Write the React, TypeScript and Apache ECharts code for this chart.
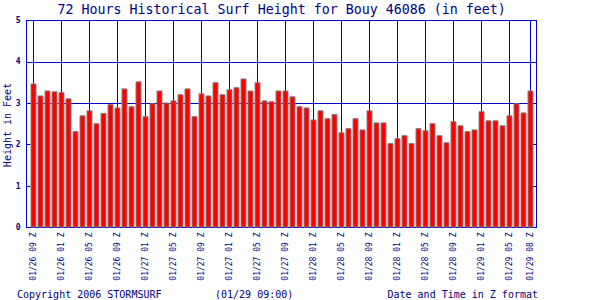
import React, { useEffect, useRef } from "react";
import * as echarts from "echarts";

const TITLE = "72 Hours Historical Surf Height for Bouy 46086 (in feet)";
const Y_NAME = "Height in Feet";
const COPYRIGHT = "Copyright 2006 STORMSURF";
const STAMP = "(01/29 09:00)";
const X_NAME = "Date and Time in Z format";

const categories: string[] = [
  "01/26 09", "01/26 10", "01/26 11", "01/26 12", "01/26 01", "01/26 02", "01/26 03", "01/26 04",
  "01/26 05", "01/26 06", "01/26 07", "01/26 08", "01/26 09", "01/26 10", "01/26 11",
  "01/27 12", "01/27 01", "01/27 02", "01/27 03", "01/27 04", "01/27 05", "01/27 06", "01/27 07",
  "01/27 08", "01/27 09", "01/27 10", "01/27 11", "01/27 12", "01/27 01", "01/27 02", "01/27 03",
  "01/27 04", "01/27 05", "01/27 06", "01/27 07", "01/27 08", "01/27 09", "01/27 10", "01/27 11",
  "01/28 12", "01/28 01", "01/28 02", "01/28 03", "01/28 04", "01/28 05", "01/28 06", "01/28 07",
  "01/28 08", "01/28 09", "01/28 10", "01/28 11", "01/28 12", "01/28 01", "01/28 02", "01/28 03",
  "01/28 04", "01/28 05", "01/28 06", "01/28 07", "01/28 08", "01/28 09", "01/28 10", "01/28 11",
  "01/29 12", "01/29 01", "01/29 02", "01/29 03", "01/29 04", "01/29 05", "01/29 06", "01/29 07",
  "01/29 08",
];

const heights: number[] = [
  3.48, 3.19, 3.31, 3.29, 3.27, 3.12, 2.33, 2.71, 2.83, 2.52, 2.77, 2.98, 2.90, 3.36, 2.93, 3.53,
  2.69, 3.00, 3.31, 3.02, 3.07, 3.22, 3.36, 2.69, 3.24, 3.19, 3.51, 3.22, 3.34, 3.39, 3.60, 3.31,
  3.51, 3.07, 3.05, 3.31, 3.31, 3.17, 2.93, 2.90, 2.61, 2.83, 2.64, 2.74, 2.30, 2.40, 2.64, 2.37,
  2.83, 2.54, 2.54, 2.04, 2.16, 2.23, 2.04, 2.40, 2.35, 2.52, 2.23, 2.06, 2.57, 2.47, 2.33, 2.37,
  2.81, 2.59, 2.59, 2.47, 2.71, 3.00, 2.78, 3.31,
];

const gridLineValues: number[] = [3, 4];

const LINE = "#0000cc";
const TEXT = "#000080";
const MONO = "'DejaVu Sans Mono', 'Liberation Mono', monospace";

const labelShown = (index: number) => index % 4 === 0 || index === categories.length - 1;

export default function App() {
  const ref = useRef<HTMLDivElement>(null);
  useEffect(() => {
    if (!ref.current) return;
    const chart = echarts.init(ref.current, null, { renderer: "svg" });
    chart.setOption({
      animation: false,
      backgroundColor: "#ffffff",
      grid: [
        {
          left: 26.5, top: 20.5, width: 510, height: 207,
          show: true, borderColor: LINE, borderWidth: 1, backgroundColor: "transparent",
        },
        { left: 33.5, top: 20.5, width: 497, height: 207 },
      ],
      xAxis: [
        { type: "value", gridIndex: 0, min: 0, max: 1, show: false },
        {
          type: "category", gridIndex: 1, data: categories, boundaryGap: false,
          axisLine: { show: false }, axisTick: { show: false },
          axisLabel: {
            interval: (i: number) => labelShown(i), rotate: 90, margin: 5,
            formatter: (v: string) => v + " Z",
            fontFamily: MONO, fontSize: 8, color: TEXT,
          },
          splitLine: { show: true, interval: (i: number) => labelShown(i), lineStyle: { color: LINE, width: 1 } },
        },
      ],
      yAxis: [
        {
          type: "value", gridIndex: 0, min: 0, max: 5, interval: 1, position: "left",
          axisLine: { show: true, lineStyle: { color: LINE } },
          axisTick: { show: true, inside: true, length: 4, lineStyle: { color: LINE } },
          axisLabel: { margin: 6, fontFamily: MONO, fontSize: 8, fontWeight: "bold", color: TEXT },
          splitLine: { show: false },
        },
        {
          type: "value", gridIndex: 0, min: 0, max: 5, interval: 1, position: "right",
          axisLine: { show: true, lineStyle: { color: LINE } },
          axisTick: { show: true, inside: true, length: 4, lineStyle: { color: LINE } },
          axisLabel: { show: false },
          splitLine: { show: false },
        },
        { type: "value", gridIndex: 1, min: 0, max: 5, show: false },
      ],
      series: [
        {
          type: "line", xAxisIndex: 0, yAxisIndex: 0, data: [], z: 1, silent: true,
          markLine: {
            silent: true, z: 1, symbol: ["none", "none"], label: { show: false },
            lineStyle: { color: LINE, width: 1, type: "solid" },
            data: gridLineValues.map((v) => ({ yAxis: v })),
          },
        },
        {
          type: "bar", xAxisIndex: 1, yAxisIndex: 2, data: heights, barWidth: 6, clip: false, z: 2,
          itemStyle: { color: "#ff0000", borderColor: "#808080", borderWidth: 1 },
          silent: true,
        },
      ],
      graphic: [
        {
          type: "text", x: 57.5, y: 9.5,
          style: { text: TITLE, font: `13.3px ${MONO}`, fill: TEXT, textAlign: "left", textVerticalAlign: "middle" },
        },
        {
          type: "text", x: 7.5, y: 125, rotation: Math.PI / 2,
          style: { text: Y_NAME, font: `10px ${MONO}`, fill: TEXT, textAlign: "center", textVerticalAlign: "middle" },
        },
        {
          type: "text", x: 17, y: 294,
          style: { text: COPYRIGHT, font: `10px ${MONO}`, fill: TEXT, textAlign: "left", textVerticalAlign: "middle" },
        },
        {
          type: "text", x: 215, y: 294,
          style: { text: STAMP, font: `10px ${MONO}`, fill: TEXT, textAlign: "left", textVerticalAlign: "middle" },
        },
        {
          type: "text", x: 538, y: 294,
          style: { text: X_NAME, font: `10px ${MONO}`, fill: TEXT, textAlign: "right", textVerticalAlign: "middle" },
        },
      ],
    });
    return () => chart.dispose();
  }, []);
  return <div ref={ref} style={{ width: 600, height: 300, position: "absolute", left: 0, top: 0 }} />;
}
